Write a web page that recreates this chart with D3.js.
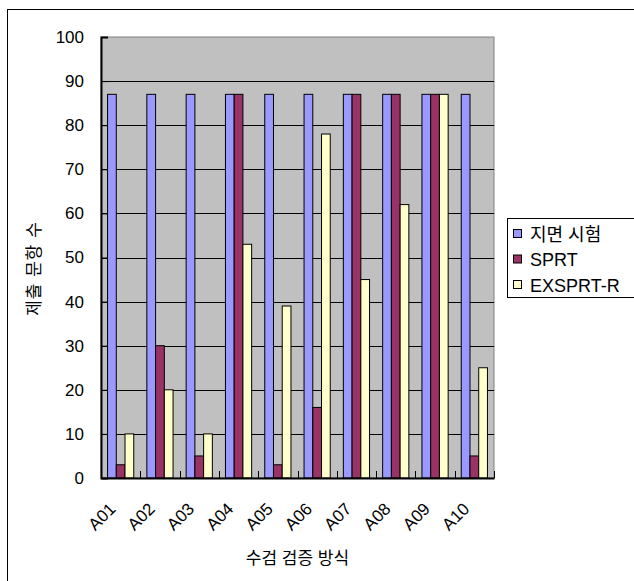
<!DOCTYPE html>
<html>
<head>
<meta charset="utf-8">
<script src="https://cdn.jsdelivr.net/npm/d3@7"></script>
<style>
  body { margin: 0; background: #fff; }
  text { font-family: "Liberation Sans", Arial, "Noto Sans CJK KR", sans-serif; fill: #000; }
</style>
</head>
<body>
<svg width="634" height="581"></svg>
<script>
const categories = ['A01', 'A02', 'A03', 'A04', 'A05', 'A06', 'A07', 'A08', 'A09', 'A10'];
const seriesNames = ['지면 시험', 'SPRT', 'EXSPRT-R'];
const paperTest = [87, 87, 87, 87, 87, 87, 87, 87, 87, 87];
const sprt = [3, 30, 5, 87, 3, 16, 87, 87, 87, 5];
const exsprtR = [10, 20, 10, 53, 39, 78, 45, 62, 87, 25];
const yTicks = [0, 10, 20, 30, 40, 50, 60, 70, 80, 90, 100];
const colors = ['#9999FF', '#993366', '#FFFFCC'];

const svg = d3.select('svg');
const plot = { left: 101, top: 37, right: 494, bottom: 478 };

// outer chart border
svg.append('rect')
  .attr('x', 7.5).attr('y', 9.5)
  .attr('width', 700).attr('height', 700)
  .attr('fill', 'none').attr('stroke', '#000');

const x = d3.scaleBand().domain(categories).range([plot.left, plot.right]);
const xs = d3.scaleBand().domain(seriesNames)
  .range([0, x.bandwidth()]).paddingInner(0).paddingOuter(0.75);
const y = d3.scaleLinear().domain([0, 100]).range([plot.bottom, plot.top]);

svg.append('rect')
  .attr('x', plot.left).attr('y', plot.top)
  .attr('width', plot.right - plot.left).attr('height', plot.bottom - plot.top)
  .attr('fill', '#C0C0C0').attr('stroke', '#808080');

// gridlines
svg.append('g').selectAll('line')
  .data(yTicks.filter(d => d > 0 && d < 100))
  .enter().append('line')
  .attr('x1', plot.left).attr('x2', plot.right)
  .attr('y1', d => Math.round(y(d)) + 0.5).attr('y2', d => Math.round(y(d)) + 0.5)
  .attr('stroke', '#000');

// bars
const data = categories.map((c, i) => ({
  cat: c,
  vals: [paperTest[i], sprt[i], exsprtR[i]]
}));

const groups = svg.append('g').selectAll('g')
  .data(data).enter().append('g')
  .attr('transform', d => `translate(${x(d.cat)},0)`);

groups.selectAll('rect')
  .data(d => d.vals.map((v, k) => ({ name: seriesNames[k], v, k })))
  .enter().append('rect')
  .attr('x', d => xs(d.name))
  .attr('y', d => y(d.v))
  .attr('width', xs.bandwidth())
  .attr('height', d => plot.bottom - y(d.v))
  .attr('fill', d => colors[d.k])
  .attr('stroke', '#000')
  .attr('stroke-width', 1);

// y axis
const yAxis = svg.append('g')
  .attr('transform', `translate(${plot.left},0)`)
  .call(d3.axisLeft(y).tickValues(yTicks).tickSize(-7).tickPadding(17));
yAxis.select('.domain').attr('stroke', '#000').attr('stroke-width', 2);
yAxis.selectAll('.tick line').attr('stroke', '#000');
yAxis.selectAll('text').attr('font-size', 17).attr('fill', '#000');

// x axis
const xAxis = svg.append('g')
  .attr('transform', `translate(0,${plot.bottom})`)
  .call(d3.axisBottom(x).tickSize(0).tickFormat(''));
xAxis.select('.domain').attr('stroke', '#000').attr('stroke-width', 2);
xAxis.selectAll('.tick').remove();

svg.append('g').selectAll('line')
  .data(categories.slice(1).concat(['end']))
  .enter().append('line')
  .attr('x1', (d, i) => Math.round(plot.left + x.step() * (i + 1)) + 0.5)
  .attr('x2', (d, i) => Math.round(plot.left + x.step() * (i + 1)) + 0.5)
  .attr('y1', plot.bottom).attr('y2', plot.bottom - 7)
  .attr('stroke', '#000');

svg.append('g').selectAll('text')
  .data(categories).enter().append('text')
  .attr('transform', d => `translate(${x(d) + x.bandwidth() / 2 - 4},${plot.bottom + 32}) rotate(-45)`)
  .attr('text-anchor', 'end')
  .attr('font-size', 17)
  .text(d => d);

// axis titles
svg.append('text')
  .attr('x', (plot.left + plot.right) / 2).attr('y', 564)
  .attr('text-anchor', 'middle').attr('font-size', 17)
  .text('수검 검증 방식');

svg.append('text')
  .attr('transform', `translate(40,${(plot.top + plot.bottom) / 2 + 11}) rotate(-90)`)
  .attr('text-anchor', 'middle').attr('font-size', 17)
  .attr('letter-spacing', 1)
  .text('제출 문항 수');

// legend
const legend = svg.append('g').attr('transform', 'translate(507,218)');
legend.append('rect')
  .attr('x', 0.5).attr('y', 0.5).attr('width', 140).attr('height', 79)
  .attr('fill', '#fff').attr('stroke', '#000');
const items = legend.selectAll('g.item')
  .data(seriesNames).enter().append('g')
  .attr('transform', (d, i) => `translate(0,${16 + i * 25.5})`);
items.append('rect')
  .attr('x', 6.5).attr('y', -4.5).attr('width', 8).attr('height', 8)
  .attr('fill', (d, i) => colors[i]).attr('stroke', '#000');
items.append('text')
  .attr('x', 23).attr('y', 6.5)
  .attr('font-size', 18)
  .text(d => d);
</script>
</body>
</html>
